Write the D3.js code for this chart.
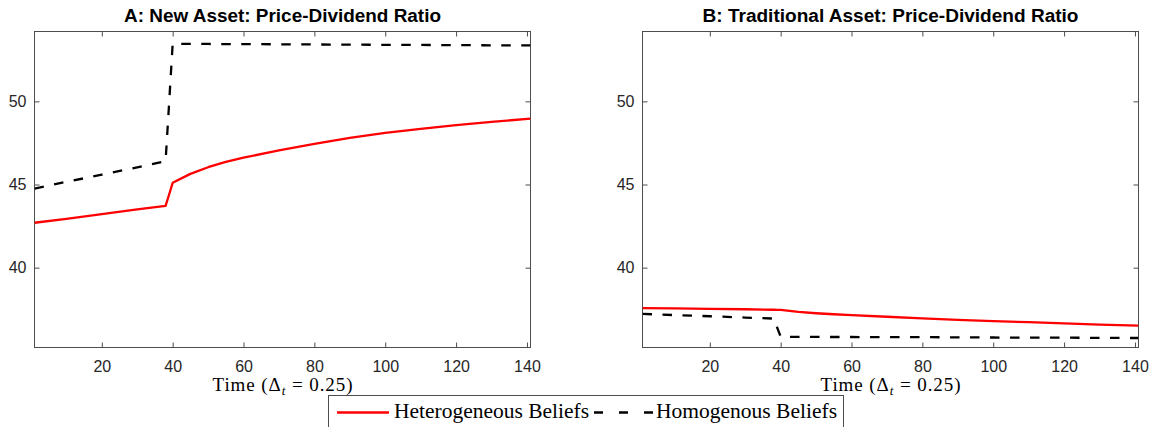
<!DOCTYPE html>
<html>
<head>
<meta charset="utf-8">
<script src="https://cdn.jsdelivr.net/npm/d3@7"></script>
<style>
  html, body { margin: 0; padding: 0; background: #fff; }
  svg { display: block; }
  .tick line { stroke: #4d4d4d; }
</style>
</head>
<body>
<svg id="chart" width="1151" height="427"></svg>
<script>
// Simulation time steps (quarterly, Δt = 0.25)
const time = [1, 10, 20, 30, 38, 39, 40, 45, 50, 55, 60, 70, 80, 90, 100, 110, 120, 130, 141];

// Panel A: new asset price-dividend ratio
const newHetero = [42.70, 42.94, 43.22, 43.50, 43.72, 44.40, 45.10, 45.64, 46.04, 46.36, 46.62, 47.05, 47.44, 47.80, 48.10, 48.35, 48.57, 48.77, 48.96];
const newHomo   = [44.76, 45.16, 45.59, 46.03, 46.41, 49.90, 53.46, 53.455, 53.45, 53.445, 53.44, 53.43, 53.42, 53.41, 53.40, 53.39, 53.38, 53.37, 53.36];

// Panel B: traditional asset price-dividend ratio
const tradHetero = [37.57, 37.55, 37.52, 37.50, 37.47, 37.465, 37.46, 37.34, 37.26, 37.20, 37.15, 37.05, 36.95, 36.86, 36.79, 36.72, 36.65, 36.58, 36.52];
const tradHomo   = [37.22, 37.15, 37.08, 37.00, 36.94, 36.40, 35.85, 35.84, 35.84, 35.83, 35.83, 35.82, 35.82, 35.81, 35.80, 35.79, 35.79, 35.78, 35.77];

const xTicks = [20, 40, 60, 80, 100, 120, 140];
const yTicks = [40, 45, 50];
const titles = ["A: New Asset: Price-Dividend Ratio", "B: Traditional Asset: Price-Dividend Ratio"];
const seriesNames = ["Heterogeneous Beliefs", "Homogenous Beliefs"];

const svg = d3.select("#chart");
const axisColor = "#4d4d4d";
const plotTop = 31.5, plotBottom = 347.5;

const y = d3.scaleLinear().domain([35.2, 54.2]).range([plotBottom, plotTop]);

const panels = [
  { left: 34.5, right: 530.5, title: titles[0], hetero: newHetero, homo: newHomo, titleLen: 317 },
  { left: 642.5, right: 1138.5, title: titles[1], hetero: tradHetero, homo: tradHomo, titleLen: 376 }
];

function styleTickText(sel) {
  sel.selectAll(".tick text")
    .style("font-family", "'Liberation Sans', Arial, Helvetica, sans-serif")
    .style("font-size", "16px")
    .style("fill", "#262626");
}

panels.forEach((p, i) => {
  const x = d3.scaleLinear().domain([1, 141]).range([p.left, p.right]);
  const g = svg.append("g");

  const clipId = "clip" + i;
  g.append("clipPath").attr("id", clipId)
    .append("rect").attr("x", p.left).attr("y", plotTop).attr("width", p.right - p.left).attr("height", plotBottom - plotTop);

  // Axes with inward ticks on all four sides
  const axB = g.append("g").attr("transform", `translate(0,${plotBottom})`)
    .call(d3.axisBottom(x).tickValues(xTicks).tickSizeInner(-5).tickSizeOuter(0).tickPadding(13));
  const axT = g.append("g").attr("transform", `translate(0,${plotTop})`)
    .call(d3.axisTop(x).tickValues(xTicks).tickSizeInner(-5).tickSizeOuter(0).tickFormat(""));
  const axL = g.append("g").attr("transform", `translate(${p.left},0)`)
    .call(d3.axisLeft(y).tickValues(yTicks).tickSizeInner(-5).tickSizeOuter(0).tickPadding(8));
  const axR = g.append("g").attr("transform", `translate(${p.right},0)`)
    .call(d3.axisRight(y).tickValues(yTicks).tickSizeInner(-5).tickSizeOuter(0).tickFormat(""));
  [axB, axT, axL, axR].forEach(a => { a.select(".domain").remove(); styleTickText(a); });

  g.append("rect")
    .attr("x", p.left).attr("y", plotTop)
    .attr("width", p.right - p.left).attr("height", plotBottom - plotTop)
    .attr("fill", "none").attr("stroke", axisColor).attr("stroke-width", 1);

  const line = d3.line().x((d, k) => x(time[k])).y(d => y(d));

  g.append("path").datum(p.hetero)
    .attr("clip-path", `url(#${clipId})`)
    .attr("d", line).attr("fill", "none")
    .attr("stroke", "#ff0000").attr("stroke-width", 2.3).attr("stroke-linejoin", "round");

  g.append("path").datum(p.homo)
    .attr("clip-path", `url(#${clipId})`)
    .attr("d", line).attr("fill", "none")
    .attr("stroke", "#000").attr("stroke-width", 2.3).attr("stroke-dasharray", "9.5,10.5");

  // Title
  g.append("text")
    .attr("x", (p.left + p.right) / 2).attr("y", 22)
    .attr("text-anchor", "middle")
    .attr("font-family", "'Liberation Sans', Arial, Helvetica, sans-serif")
    .attr("font-weight", "bold").attr("font-size", 18)
    .attr("fill", "#000")
    .attr("textLength", p.titleLen).attr("lengthAdjust", "spacingAndGlyphs")
    .text(p.title);

  // X-axis label: Time (Δ_t = 0.25)
  const xl = g.append("text")
    .attr("x", (p.left + p.right) / 2).attr("y", 391)
    .attr("text-anchor", "middle")
    .attr("font-family", "'Liberation Serif', 'Times New Roman', serif")
    .attr("font-size", 19).attr("fill", "#000")
    .attr("textLength", 140).attr("lengthAdjust", "spacing");
  xl.append("tspan").text("Time (Δ");
  xl.append("tspan").attr("font-style", "italic").attr("font-size", 13).attr("dy", 4).text("t");
  xl.append("tspan").attr("dy", -4).text(" = 0.25)");
});

// Legend
const lg = svg.append("g");
lg.append("rect")
  .attr("x", 328.5).attr("y", 395.5).attr("width", 515).attr("height", 45)
  .attr("fill", "#fff").attr("stroke", axisColor).attr("stroke-width", 1);

const legendItems = [
  { name: seriesNames[0], x0: 337, x1: 389, tx: 394, len: 195, color: "#ff0000", dash: null },
  { name: seriesNames[1], x0: 594, x1: 653, tx: 656, len: 181, color: "#000", dash: "9,16" }
];
legendItems.forEach(it => {
  const l = lg.append("line")
    .attr("x1", it.x0).attr("x2", it.x1).attr("y1", 412.5).attr("y2", 412.5)
    .attr("stroke", it.color).attr("stroke-width", 2.3);
  if (it.dash) l.attr("stroke-dasharray", it.dash);
  lg.append("text")
    .attr("x", it.tx).attr("y", 417.5)
    .attr("font-family", "'Liberation Serif', 'Times New Roman', serif")
    .attr("font-size", 20).attr("fill", "#000")
    .attr("textLength", it.len).attr("lengthAdjust", "spacingAndGlyphs")
    .text(it.name);
});
</script>
</body>
</html>
